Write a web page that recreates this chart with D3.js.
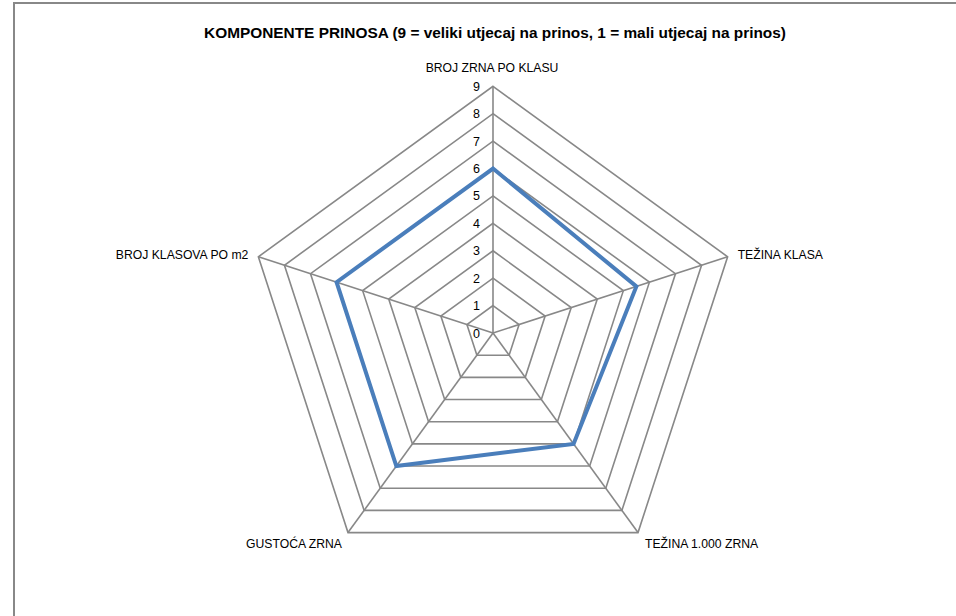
<!DOCTYPE html>
<html><head><meta charset="utf-8">
<script src="https://cdn.jsdelivr.net/npm/d3@7"></script>
<style>body{margin:0;background:#fff}svg{display:block}</style>
</head><body>
<svg id="c" width="956" height="616"></svg>
<script>
const title = "KOMPONENTE PRINOSA (9 = veliki utjecaj na prinos, 1 = mali utjecaj na prinos)";
const categories = ["BROJ ZRNA PO KLASU","TEŽINA KLASA","TEŽINA 1.000 ZRNA","GUSTOĆA ZRNA","BROJ KLASOVA PO m2"];
const values = [6, 5.5, 5, 6, 6];
const ticks = [0,1,2,3,4,5,6,7,8,9];

const svg = d3.select("#c");
const cx = 493, cy = 333, R = 246.7;
const font = "'Liberation Sans', Arial, sans-serif";
svg.append("rect").attr("x",14).attr("y",3).attr("width",960).attr("height",640)
  .attr("fill","#fff").attr("stroke","#888").attr("stroke-width",2);

svg.append("text").attr("x",495).attr("y",38).attr("text-anchor","middle")
  .attr("font-family",font).attr("font-weight","bold").attr("font-size",15.4)
  .attr("fill","#000").text(title);

const r = d3.scaleLinear().domain([0,9]).range([0,R]);
const ang = d3.scaleLinear().domain([0,categories.length]).range([0,2*Math.PI]);
const pt = (i,v)=>[cx + r(v)*Math.sin(ang(i)), cy - r(v)*Math.cos(ang(i))];

const g = svg.append("g");
ticks.forEach(t=>{
  if(t===0) return;
  g.append("path").attr("d", d3.line()(categories.map((c,i)=>pt(i,t)))+"Z")
    .attr("fill","none").attr("stroke","#888").attr("stroke-width",1.6);
});
categories.forEach((c,i)=>{
  const [x,y]=pt(i,9);
  g.append("line").attr("x1",cx).attr("y1",cy).attr("x2",x).attr("y2",y)
   .attr("stroke","#888").attr("stroke-width",1.6);
});

ticks.forEach(t=>{
  svg.append("text").attr("x",cx-13).attr("y",cy - r(t)+4.5).attr("text-anchor","end")
   .attr("font-family",font).attr("font-size",12.5).attr("fill","#000").text(t);
});

svg.append("path").attr("d", d3.line()(values.map((v,i)=>pt(i,v)))+"Z")
  .attr("fill","none").attr("stroke","#4a7ebb").attr("stroke-width",4).attr("stroke-linejoin","miter");

const labPos = [
  {dx:-1, dy:-19, anchor:"middle"},
  {dx:10, dy:-2, anchor:"start"},
  {dx:7, dy:11, anchor:"start"},
  {dx:-6, dy:11, anchor:"end"},
  {dx:-10, dy:-2, anchor:"end"}
];
categories.forEach((c,i)=>{
  const [x,y]=pt(i,9);
  svg.append("text").attr("x",x+labPos[i].dx).attr("y",y+labPos[i].dy).attr("dy","0.35em")
   .attr("text-anchor",labPos[i].anchor).attr("font-family",font).attr("font-size",12.2)
   .attr("fill","#000").text(c);
});
</script>
</body></html>
